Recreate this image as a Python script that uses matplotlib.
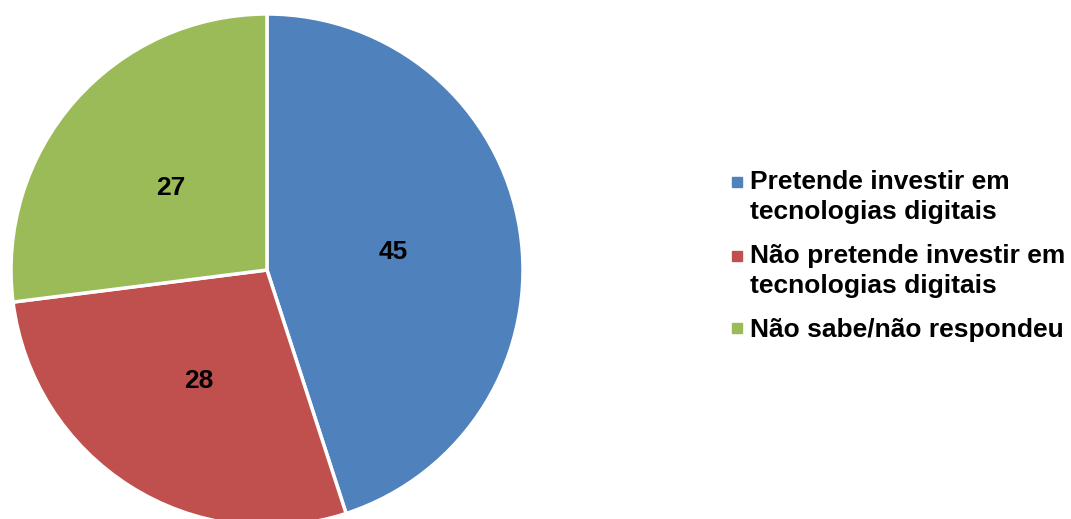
import matplotlib.pyplot as plt
from matplotlib.lines import Line2D
from matplotlib.legend_handler import HandlerLine2D

plt.rcParams['font.family'] = ['Liberation Sans', 'DejaVu Sans']

categories = ['Pretende investir em\ntecnologias digitais',
              'Não pretende investir em\ntecnologias digitais',
              'Não sabe/não respondeu']
values = [45, 28, 27]
colors = ['#4F81BD', '#C0504D', '#9BBB59']


class FirstLineHandler(HandlerLine2D):
    """put the legend marker next to the first line of a multi-line label"""

    def __init__(self, shift, **kw):
        super().__init__(**kw)
        self.shift = shift

    def create_artists(self, legend, orig_handle, xdescent, ydescent, width, height, fontsize, trans):
        artists = super().create_artists(legend, orig_handle, xdescent, ydescent, width, height, fontsize, trans)
        for a in artists:
            a.set_ydata([y + self.shift for y in a.get_ydata()])
        return artists


fig = plt.figure(figsize=(10.71, 5.19), dpi=100)
W, H = 1071, 519
# pie axes: centre (267, 270) px, radius 256 px
ax = fig.add_axes([(267 - 256) / W, (H - 270 - 256) / H, 512 / W, 512 / H])

wedges, texts = ax.pie(values, colors=colors, startangle=90, counterclock=False,
                       labels=[str(v) for v in values], labeldistance=0.5,
                       wedgeprops={'edgecolor': 'white', 'linewidth': 2.5},
                       textprops={'fontsize': 19, 'fontweight': 'bold', 'color': 'black',
                                  'ha': 'center', 'va': 'center_baseline'})
for w in wedges:
    w.set_clip_on(False)
ax.set_xlim(-1, 1)
ax.set_ylim(-1, 1)
ax.set_aspect('equal')

line_pt = 30 * 72 / 100  # distance between text lines, in points
handles = [Line2D([], [], marker='s', linestyle='none', markersize=6.5,
                  markerfacecolor=c, markeredgecolor=c) for c in colors]
hmap = {h: FirstLineHandler(line_pt / 2 * cat.count('\n')) for h, cat in zip(handles, categories)}
leg = fig.legend(handles, categories, loc='center left', bbox_to_anchor=(732 / W, 1 - 256 / H),
                 frameon=False, borderpad=0, borderaxespad=0, handlelength=0.4,
                 handletextpad=0.3, labelspacing=0.77, handler_map=hmap,
                 prop={'size': 19, 'weight': 'bold'})
for t in leg.get_texts():
    t.set_linespacing(1.29)

fig.savefig('out.png', dpi=100)
